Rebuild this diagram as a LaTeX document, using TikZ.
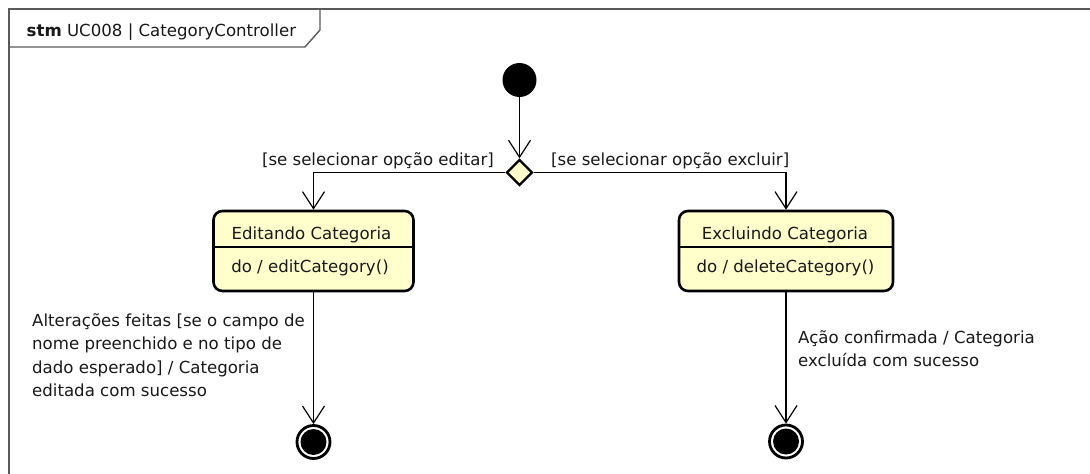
\documentclass[tikz,border=0pt]{standalone}
\usepackage{fontspec}
\setmainfont{DejaVu Sans}
\usepackage{tikz}
\usetikzlibrary{arrows.meta, shapes.geometric, positioning}
\definecolor{statefill}{RGB}{255,255,204}
\definecolor{framegray}{RGB}{90,90,90}
\definecolor{inkblack}{RGB}{25,25,25}

\tikzset{
  umltext/.style={font=\fontsize{16.6}{23.5}\selectfont, text=inkblack, inner sep=0pt},
  statebox/.style={draw=black, fill=statefill, line width=2.6pt, rounded corners=9pt, minimum width=#1, minimum height=80pt, inner sep=0pt},
  initstate/.style={circle, fill=black, minimum size=34pt, inner sep=0pt},
  finalstate/.style={circle, draw=black, line width=2.8pt, minimum size=33pt, inner sep=0pt,
    path picture={\fill[black] (path picture bounding box.center) circle (13pt);}},
  choice/.style={diamond, aspect=1, draw=black, fill=statefill, line width=2.4pt, minimum size=26pt, inner sep=0pt},
  trans/.style={draw=black, line width=1.2pt, -{Straight Barb[length=17pt, width=22pt]}},
}

\begin{document}
\begin{tikzpicture}[x=1pt, y=-1pt]

\fill[white] (0,0) rectangle (1090,474);
\useasboundingbox (0,0) rectangle (1090,474);

% --- Frame ---
\draw[framegray, line width=2pt] (1095,9) -- (9,9) -- (9,480);
\draw[framegray, line width=1.4pt] (9,47) -- (305,47) -- (320,30) -- (320,9);
\node[umltext, anchor=base west] (frametitle) at (26.5,36) {\textbf{stm} UC008 | CategoryController};

% --- Pseudo states ---
\node[initstate] (init) at (519.5,80) {};
\node[choice] (dec) at (519.5,172.5) {};

% --- States ---
\node[statebox=200pt] (edit) at (313.5,251) {};
\draw[line width=1.2pt] (edit.west |- 0,247) -- (edit.east |- 0,247);
\node[umltext, anchor=base] (editname) at (311.5,239) {Editando Categoria};
\node[umltext, anchor=base] (editdo) at (310,272) {do / editCategory()};

\node[statebox=214pt] (del) at (786,251) {};
\draw[line width=1.2pt] (del.west |- 0,247) -- (del.east |- 0,247);
\node[umltext, anchor=base] (delname) at (785,239) {Excluindo Categoria};
\node[umltext, anchor=base] (deldo) at (785.5,272) {do / deleteCategory()};

% --- Final states ---
\node[finalstate] (editend) at (edit.center |- 0,442) {};
\node[finalstate] (delend) at (del.center |- 0,441.5) {};

% --- Transitions ---
\draw[trans] (init) -- (dec);
\draw[trans] (dec) -| (edit);
\draw[trans] (dec) -| (del);
\draw[trans] (edit) -- (editend);
\draw[trans] (del) -- (delend);

% --- Transition labels ---
\node[umltext, anchor=base east] (editguard) at (494,165) {[se selecionar opção editar]};
\node[umltext, anchor=base west] (delguard) at (551,165) {[se selecionar opção excluir]};
\node[umltext, anchor=north west, align=left] (editeffect) at (32,313) {Alterações feitas [se o campo de\\nome preenchido e no tipo de\\dado esperado] / Categoria\\editada com sucesso};
\node[umltext, anchor=north west, align=left] (deleffect) at (798,330) {Ação confirmada / Categoria\\excluída com sucesso};

\end{tikzpicture}
\end{document}
